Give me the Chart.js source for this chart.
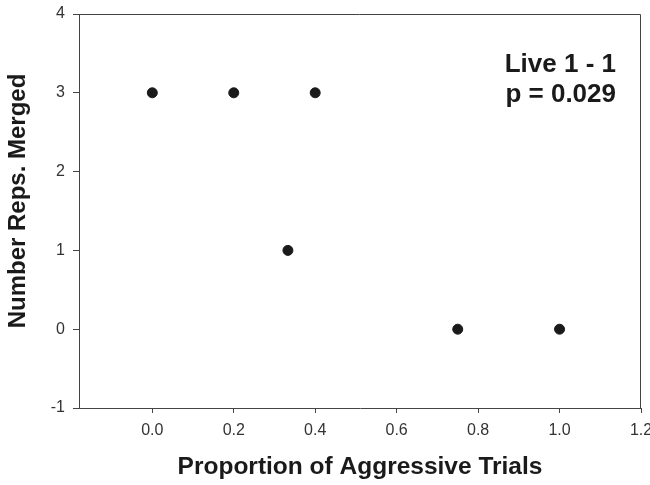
<!DOCTYPE html>
<html>
<head>
<meta charset="utf-8">
<script src="https://cdn.jsdelivr.net/npm/chart.js@4"></script>
<style>
  html, body { margin: 0; padding: 0; background: #ffffff; }
  #wrap { width: 650px; height: 485px; position: relative; }
</style>
</head>
<body>
<div id="wrap"><canvas id="scatterChart"></canvas></div>
<script>
// proportion of aggressive trials vs number of reps merged
const proportions = [0.0, 0.2, 0.333, 0.4, 0.75, 1.0];
const repsMerged  = [3, 3, 1, 3, 0, 0];

const xTicks = [0.0, 0.2, 0.4, 0.6, 0.8, 1.0, 1.2];
const yTicks = [-1, 0, 1, 2, 3, 4];

const xTitle = "Proportion of Aggressive Trials";
const yTitle = "   Number Reps. Merged"; // leading spaces nudge it up like the original
const noteLines = ["Live 1 - 1", "p = 0.029"];

const FONT = "'Liberation Sans', Arial, Helvetica, sans-serif";
const AXIS_COLOR = "#444444";

// frame on top + right, and the stats note in the corner
const framePlugin = {
  id: "frame",
  afterDraw(chart) {
    const { ctx, chartArea: a } = chart;
    ctx.save();
    ctx.strokeStyle = AXIS_COLOR;
    ctx.lineWidth = 1;
    ctx.beginPath();
    ctx.moveTo(a.left, a.top + 0.5);
    ctx.lineTo(a.right - 0.5, a.top + 0.5);
    ctx.lineTo(a.right - 0.5, a.bottom);
    ctx.stroke();

    ctx.fillStyle = "#1a1a1a";
    ctx.font = "bold 26px " + FONT;
    ctx.textAlign = "right";
    ctx.textBaseline = "alphabetic";
    noteLines.forEach((line, i) => {
      ctx.fillText(line, a.right - 25, a.top + 58 + i * 30);
    });
    ctx.restore();
  }
};

const ctx = document.getElementById("scatterChart");

new Chart(ctx, {
  type: "scatter",
  data: {
    datasets: [{
      data: proportions.map((x, i) => ({ x: x, y: repsMerged[i] })),
      backgroundColor: "#1a1a1a",
      borderColor: "#1a1a1a",
      pointRadius: 5,
      pointHoverRadius: 5
    }]
  },
  options: {
    responsive: true,
    maintainAspectRatio: false,
    animation: false,
    layout: {
      padding: { top: 14, right: 9, left: 0, bottom: 0 }
    },
    plugins: {
      legend: { display: false },
      tooltip: { enabled: false }
    },
    scales: {
      x: {
        type: "linear",
        min: -0.18,
        max: 1.2,
        afterBuildTicks: (scale) => {
          scale.ticks = xTicks.map(v => ({ value: v }));
        },
        afterFit: (scale) => {
          scale.height = 77;
          scale.paddingLeft = 0;
          scale.paddingRight = 0;
        },
        ticks: {
          padding: 8,
          color: "#333333",
          font: { family: FONT, size: 16 },
          maxRotation: 0,
          callback: (v) => v.toFixed(1)
        },
        grid: {
          drawOnChartArea: false,
          drawTicks: true,
          tickLength: 5,
          color: AXIS_COLOR
        },
        border: { display: true, color: AXIS_COLOR, width: 1 },
        title: {
          display: true,
          text: xTitle,
          color: "#1a1a1a",
          font: { family: FONT, size: 24.5, weight: "bold" },
          padding: { top: 0, bottom: 3 }
        }
      },
      y: {
        type: "linear",
        min: -1,
        max: 4,
        afterBuildTicks: (scale) => {
          scale.ticks = yTicks.map(v => ({ value: v }));
        },
        afterFit: (scale) => {
          scale.width = 79;
          scale.paddingTop = 0;
          scale.paddingBottom = 0;
        },
        ticks: {
          padding: 8,
          color: "#333333",
          font: { family: FONT, size: 16 }
        },
        grid: {
          drawOnChartArea: false,
          drawTicks: true,
          tickLength: 6,
          color: AXIS_COLOR
        },
        border: { display: true, color: AXIS_COLOR, width: 1 },
        title: {
          display: true,
          text: yTitle,
          color: "#1a1a1a",
          font: { family: FONT, size: 24, weight: "bold" },
          padding: { top: 4, bottom: 0 }
        }
      }
    }
  },
  plugins: [framePlugin]
});
</script>
</body>
</html>
